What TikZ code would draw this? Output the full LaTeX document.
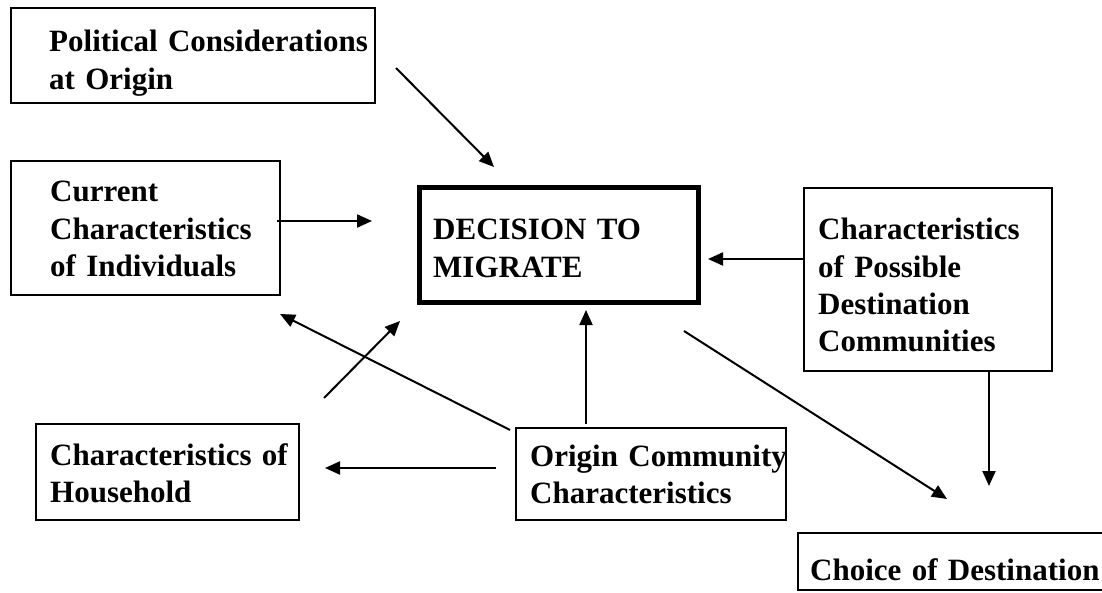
\documentclass[tikz,border=0pt]{standalone}
\usepackage{fontspec}
\setmainfont{Liberation Serif}
\usetikzlibrary{arrows.meta}
\begin{document}
\begin{tikzpicture}[x=1pt,y=-1pt,
  box/.style={draw, line width=2pt, inner sep=0pt, rectangle},
  mainbox/.style={draw, line width=5pt, inner sep=0pt, rectangle},
  txt/.style={anchor=base west, inner sep=0pt, text width=420pt, align=left,
    font=\fontsize{31}{37.3}\selectfont\bfseries},
  conn/.style={line width=2pt, -{Triangle[length=15pt,width=13pt]}}]
\useasboundingbox (0,0) rectangle (1102,593);
\fill[white] (0,0) rectangle (1102,593);
\begin{scope}
\clip (0,0) rectangle (1102,593);
% boxes
\node[box, minimum width=364pt, minimum height=95pt] (pol) at (193,55.5) {};
\node[box, minimum width=269pt, minimum height=134pt] (cur) at (145.5,228) {};
\node[mainbox, minimum width=279pt, minimum height=115pt] (dec) at (559,245) {};
\node[box, minimum width=248pt, minimum height=183pt] (poss) at (928,279.5) {};
\node[box, minimum width=263pt, minimum height=96pt] (hh) at (167.5,472) {};
\node[box, minimum width=270pt, minimum height=92pt] (orig) at (651,474) {};
\node[box, minimum width=342pt, minimum height=57pt] (choice) at (969,561.5) {};
\end{scope}
% texts
\node[txt] (polt) at (49,52) {Political Considerations\\at Origin};
\node[txt] (curt) at (50,202) {Current\\Characteristics\\of Individuals};
\node[txt] (dect) at (433,240) {DECISION TO\\MIGRATE};
\node[txt] (posst) at (818,240) {Characteristics\\of Possible\\Destination\\Communities};
\node[txt] (hht) at (50,465) {Characteristics of\\Household};
\node[txt] (origt) at (530,466) {Origin Community\\Characteristics};
\node[txt, text width=290pt] (choicet) at (810,580) {Choice of Destination};
% connector ends
\coordinate (polA) at (396,68);   \coordinate (decA) at (494,167);
\coordinate (curA) at (277,221);  \coordinate (decB) at (372,221);
\coordinate (possA) at (803,259); \coordinate (decC) at (708,259);
\coordinate (origA) at (586,424); \coordinate (decD) at (586,310);
\coordinate (hhA) at (324,398);   \coordinate (decE) at (400,321);
\coordinate (origB) at (510,430); \coordinate (curB) at (280,314);
\coordinate (origC) at (496,468); \coordinate (hhB) at (325,468);
\coordinate (decF) at (684,331);  \coordinate (choiceA) at (947,499);
\coordinate (possB) at (989,372); \coordinate (choiceB) at (989,486);
% connectors
\draw[conn] (polA) -- (decA);
\draw[conn] (curA) -- (decB);
\draw[conn] (possA) -- (decC);
\draw[conn] (origA) -- (decD);
\draw[conn] (hhA) -- (decE);
\draw[conn] (origB) -- (curB);
\draw[conn] (origC) -- (hhB);
\draw[conn] (decF) -- (choiceA);
\draw[conn] (possB) -- (choiceB);
\end{tikzpicture}
\end{document}
